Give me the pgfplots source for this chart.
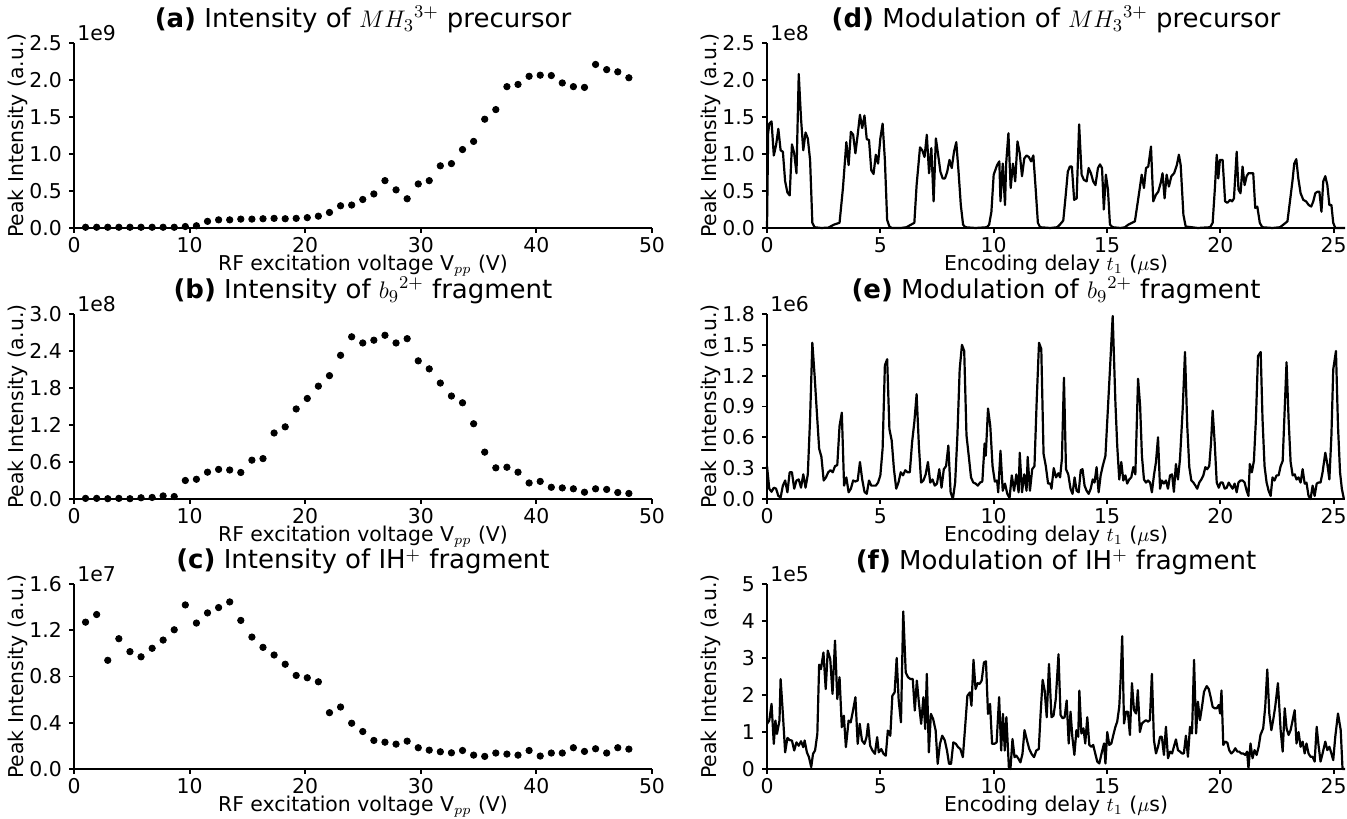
\documentclass[border=0pt]{standalone}
\usepackage{fontspec}
\setmainfont{DejaVu Sans}
\usepackage{pgfplots}
\pgfplotsset{compat=1.18}
\usepackage{pgfplotstable}

\pgfplotstableread{
x a b c
1.00 0.01 0.01 1.27
1.96 0.01 0.01 1.336
2.92 0.01 0.005 0.94
3.88 0.01 0.01 1.127
4.84 0.01 0.005 1.015
5.80 0.01 0.02 0.97
6.76 0.01 0.025 1.044
7.71 0.01 0.05 1.115
8.67 0.01 0.04 1.204
9.63 0.02 0.30 1.419
10.59 0.03 0.32 1.262
11.55 0.09 0.435 1.35
12.51 0.11 0.48 1.396
13.47 0.11 0.47 1.445
14.43 0.12 0.43 1.285
15.39 0.12 0.63 1.141
16.35 0.125 0.655 1.052
17.31 0.13 1.07 0.986
18.27 0.125 1.17 0.906
19.22 0.13 1.46 0.809
20.18 0.14 1.63 0.789
21.14 0.16 1.83 0.754
22.10 0.21 2.00 0.487
23.06 0.30 2.33 0.536
24.02 0.31 2.63 0.396
24.98 0.385 2.53 0.324
25.94 0.46 2.575 0.247
26.90 0.64 2.655 0.232
27.86 0.515 2.53 0.215
28.82 0.395 2.60 0.241
29.78 0.595 2.24 0.184
30.73 0.64 2.11 0.163
31.69 0.84 1.88 0.149
32.65 0.87 1.67 0.14
33.61 1.06 1.56 0.16
34.57 1.17 1.22 0.12
35.53 1.47 0.76 0.109
36.49 1.60 0.505 0.138
37.45 1.91 0.515 0.129
38.41 1.94 0.435 0.12
39.37 2.05 0.26 0.16
40.33 2.065 0.285 0.112
41.29 2.06 0.19 0.138
42.24 1.96 0.18 0.138
43.20 1.91 0.165 0.184
44.16 1.90 0.11 0.152
45.12 2.21 0.165 0.175
46.08 2.14 0.155 0.138
47.04 2.11 0.105 0.184
48.00 2.03 0.09 0.172
}\lefttab

\pgfplotsset{
  base/.style={
    scale only axis, width=289pt, height=92.5pt,
    axis x line=bottom, axis y line=left,
    axis line style={-, line width=1.2pt, black},
    tick style={black, line width=0.9pt},
    tick align=outside, major tick length=2.5pt,
    ymin=0,
    tick label style={font=\fontsize{10.2}{12}\selectfont, inner sep=0.5pt},
    xticklabel style={yshift=-1.4pt},
    yticklabel style={xshift=-2.9pt},
    /pgf/number format/assume math mode=true,
    label style={font=\fontsize{10.2}{12}\selectfont, inner sep=0.5pt},
    title style={font=\fontsize{13}{15}\selectfont, at={(0.5,1)}, anchor=base, yshift=1.5pt, inner sep=0.5pt},
    xlabel style={at={(axis description cs:0.5,0)}, anchor=base, yshift=-21.3pt},
    ylabel style={at={(axis description cs:-0.097,0.5)}, anchor=center, rotate=0},
    clip=false,
  },
  leftax/.style={base, xmin=0, xmax=50, xtick={0,10,20,30,40,50},
    xlabel={RF excitation voltage V$_{pp}$ (V)}, ylabel={Peak Intensity (a.u.)}},
  rightax/.style={base, xmin=0, xmax=25.5, xtick={0,5,10,15,20,25},
    xlabel={Encoding delay $t_1$ ($\mu$s)}, ylabel={Peak Intensity (a.u.)}},
  onedec/.style={yticklabel style={/pgf/number format/.cd, fixed, fixed zerofill, precision=1}},
  dots/.style={only marks, mark=*, mark size=1.6pt, black},
  trace/.style={black, line width=1.1pt, line join=round, mark=none},
}

\begin{document}
\begin{tikzpicture}
\useasboundingbox (0,0) rectangle (673.5pt,409pt);

% (a)
\begin{axis}[leftax, onedec, at={(37pt,295pt)}, anchor=south west,
  ymax=2.5, ytick={0,0.5,1.0,1.5,2.0,2.5},
  title={\textbf{(a)} Intensity of ${MH_3}^{3+}$ precursor}]
\addplot[dots] table[x=x,y=a]{\lefttab};
\node[anchor=south west, inner sep=0pt, font=\fontsize{10.2}{12}\selectfont] at (rel axis cs:0.005,1.01) {1e9};
\end{axis}

% (b)
\begin{axis}[leftax, onedec, at={(37pt,159.5pt)}, anchor=south west,
  ymax=3.0, ytick={0,0.6,1.2,1.8,2.4,3.0},
  title={\textbf{(b)} Intensity of ${b_9}^{2+}$ fragment}]
\addplot[dots] table[x=x,y=b]{\lefttab};
\node[anchor=south west, inner sep=0pt, font=\fontsize{10.2}{12}\selectfont] at (rel axis cs:0.005,1.01) {1e8};
\end{axis}

% (c)
\begin{axis}[leftax, onedec, at={(37pt,24.5pt)}, anchor=south west,
  ymax=1.6, ytick={0,0.4,0.8,1.2,1.6},
  title={\textbf{(c)} Intensity of IH$^{+}$ fragment}]
\addplot[dots] table[x=x,y=c]{\lefttab};
\node[anchor=south west, inner sep=0pt, font=\fontsize{10.2}{12}\selectfont] at (rel axis cs:0.005,1.01) {1e7};
\end{axis}

% (d)
\begin{axis}[rightax, onedec, at={(383.5pt,295pt)}, anchor=south west,
  ymax=2.5, ytick={0,0.5,1.0,1.5,2.0,2.5},
  title={\textbf{(d)} Modulation of ${MH_3}^{3+}$ precursor}]
\addplot[trace] coordinates {(0,0.0)(0.05,1.28)(0.1,1.41)(0.2,1.44)(0.3,0.98)(0.4,1.12)(0.5,1.34)(0.6,1.05)(0.7,1.03)(0.8,0.63)(0.9,0.48)(1.0,0.44)(1.1,1.13)(1.2,1.01)(1.3,0.74)(1.4,2.08)(1.5,1.48)(1.6,1.05)(1.7,1.29)(1.8,1.21)(1.9,0.92)(2.0,0.07)(2.1,0.01)(2.4,0.0)(2.7,0.005)(2.8,0.02)(2.95,0.045)(3.2,0.07)(3.35,0.54)(3.5,1.16)(3.6,0.85)(3.7,1.30)(3.8,1.26)(3.9,1.01)(4.0,1.26)(4.1,1.53)(4.2,1.35)(4.3,1.52)(4.4,1.20)(4.5,1.19)(4.6,0.78)(4.7,0.73)(4.8,0.99)(4.9,0.87)(5.0,1.21)(5.1,1.41)(5.2,0.92)(5.3,0.11)(5.4,0.02)(5.5,0.0)(5.9,0.0)(6.15,0.01)(6.3,0.036)(6.5,0.07)(6.6,0.58)(6.75,1.09)(6.85,1.05)(6.95,0.96)(7.05,1.26)(7.15,0.74)(7.25,1.08)(7.35,0.36)(7.45,1.21)(7.55,0.99)(7.65,0.76)(7.75,0.67)(7.85,0.67)(7.95,0.76)(8.05,0.92)(8.15,0.81)(8.25,1.03)(8.35,1.16)(8.45,0.76)(8.55,0.31)(8.65,0.045)(8.75,0.01)(9.2,0.0)(9.7,0.01)(9.8,0.045)(9.9,0.22)(10.0,0.72)(10.15,0.85)(10.25,0.90)(10.3,0.36)(10.4,0.87)(10.5,0.31)(10.55,0.87)(10.65,1.28)(10.75,0.54)(10.85,0.87)(10.95,0.63)(11.05,1.17)(11.15,1.01)(11.25,0.70)(11.35,0.94)(11.45,0.98)(11.55,0.96)(11.65,0.90)(11.75,0.98)(11.85,0.54)(11.95,0.07)(12.05,0.01)(12.5,0.0)(12.8,0.01)(12.92,0.045)(13.07,0.1)(13.18,0.45)(13.27,0.76)(13.36,0.83)(13.45,0.83)(13.55,0.38)(13.66,0.40)(13.77,1.40)(13.88,0.72)(13.98,0.65)(14.1,0.63)(14.19,0.81)(14.29,0.74)(14.39,0.63)(14.49,0.58)(14.6,0.81)(14.69,0.86)(14.78,0.81)(14.86,0.25)(14.95,0.72)(15.04,0.52)(15.13,0.045)(15.25,0.01)(15.6,0.0)(15.79,0.01)(15.94,0.045)(16.23,0.09)(16.38,0.40)(16.53,0.72)(16.63,0.54)(16.72,0.81)(16.82,0.83)(16.94,1.10)(17.04,0.36)(17.16,0.45)(17.26,0.49)(17.37,0.61)(17.45,0.74)(17.54,0.40)(17.63,0.72)(17.73,0.56)(17.84,0.70)(17.96,0.74)(18.08,0.85)(18.17,0.99)(18.25,0.85)(18.37,0.18)(18.47,0.02)(19.0,0.0)(19.55,0.01)(19.66,0.07)(19.76,0.54)(19.84,0.99)(19.91,0.67)(19.98,0.92)(20.1,0.92)(20.21,0.36)(20.31,0.34)(20.43,0.38)(20.52,0.36)(20.6,0.40)(20.72,1.03)(20.8,0.52)(20.89,0.47)(20.98,0.83)(21.07,0.58)(21.16,0.70)(21.24,0.74)(21.36,0.74)(21.45,0.74)(21.54,0.27)(21.63,0.29)(21.74,0.07)(21.85,0.01)(22.3,0.0)(22.63,0.01)(22.78,0.045)(22.96,0.09)(23.07,0.36)(23.18,0.63)(23.26,0.87)(23.35,0.93)(23.44,0.67)(23.54,0.47)(23.66,0.38)(23.78,0.36)(23.9,0.31)(24.01,0.29)(24.1,0.36)(24.19,0.47)(24.28,0.49)(24.37,0.49)(24.46,0.22)(24.54,0.63)(24.63,0.70)(24.72,0.58)(24.81,0.31)(24.9,0.31)(24.98,0.07)(25.07,0.0)(25.5,0.0)};
\node[anchor=south west, inner sep=0pt, font=\fontsize{10.2}{12}\selectfont] at (rel axis cs:0.005,1.01) {1e8};
\end{axis}

% (e)
\begin{axis}[rightax, onedec, at={(383.5pt,159.5pt)}, anchor=south west,
  ymax=1.8, ytick={0,0.3,0.6,0.9,1.2,1.5,1.8},
  title={\textbf{(e)} Modulation of ${b_9}^{2+}$ fragment}]
\addplot[trace] coordinates {(0,0.32)(0.1,0.10)(0.2,0.07)(0.3,0.11)(0.4,0.10)(0.5,0.03)(0.6,0.015)(0.7,0.13)(0.8,0.18)(0.9,0.065)(1.0,0.26)(1.1,0.26)(1.2,0.10)(1.3,0.18)(1.4,0.19)(1.5,0.11)(1.6,0.24)(1.7,0.11)(1.8,0.24)(1.9,0.78)(2.0,1.52)(2.1,1.20)(2.2,0.84)(2.3,0.49)(2.4,0.41)(2.5,0.18)(2.6,0.21)(2.7,0.26)(2.8,0.28)(2.9,0.26)(3.0,0.32)(3.1,0.33)(3.2,0.71)(3.3,0.84)(3.4,0.13)(3.5,0.21)(3.6,0.065)(3.7,0.10)(3.8,0.18)(3.9,0.17)(4.0,0.18)(4.1,0.36)(4.2,0.19)(4.3,0.07)(4.4,0.05)(4.5,0.18)(4.6,0.13)(4.7,0.13)(4.8,0.13)(4.9,0.16)(5.0,0.23)(5.1,0.49)(5.2,1.30)(5.3,1.36)(5.4,0.68)(5.5,0.57)(5.6,0.29)(5.7,0.10)(5.8,0.16)(5.9,0.26)(6.0,0.23)(6.1,0.28)(6.2,0.26)(6.3,0.26)(6.4,0.55)(6.5,0.75)(6.6,1.02)(6.7,0.52)(6.8,0.16)(6.9,0.18)(7.0,0.24)(7.1,0.36)(7.2,0.16)(7.3,0.19)(7.4,0.13)(7.5,0.15)(7.6,0.29)(7.7,0.11)(7.8,0.29)(7.9,0.32)(8.0,0.52)(8.1,0.065)(8.2,0.0)(8.3,0.16)(8.4,0.62)(8.5,1.26)(8.6,1.50)(8.7,1.44)(8.8,0.62)(8.9,0.42)(9.0,0.21)(9.1,0.16)(9.2,0.15)(9.3,0.13)(9.4,0.16)(9.5,0.17)(9.6,0.54)(9.65,0.42)(9.75,0.88)(9.85,0.71)(9.95,0.32)(10.05,0.17)(10.15,0.18)(10.2,0.065)(10.3,0.47)(10.4,0.08)(10.5,0.15)(10.6,0.05)(10.7,0.01)(10.8,0.23)(10.9,0.08)(11.0,0.24)(11.1,0.065)(11.15,0.45)(11.25,0.065)(11.35,0.24)(11.45,0.08)(11.5,0.41)(11.6,0.08)(11.7,0.29)(11.8,0.32)(11.9,0.97)(12.0,1.52)(12.1,1.46)(12.2,0.44)(12.3,0.32)(12.4,0.15)(12.5,0.15)(12.55,0.10)(12.65,0.30)(12.75,0.21)(12.85,0.25)(12.93,0.21)(13.01,0.39)(13.1,1.18)(13.19,0.29)(13.29,0.24)(13.39,0.10)(13.48,0.05)(13.57,0.21)(13.66,0.08)(13.75,0.065)(13.84,0.28)(13.92,0.29)(14.01,0.13)(14.1,0.08)(14.19,0.05)(14.28,0.10)(14.37,0.19)(14.45,0.16)(14.54,0.31)(14.63,0.065)(14.72,0.23)(14.81,0.32)(14.93,0.42)(15.03,0.84)(15.13,1.26)(15.25,1.78)(15.37,0.94)(15.45,0.52)(15.54,0.19)(15.63,0.36)(15.72,0.18)(15.81,0.23)(15.89,0.15)(15.98,0.19)(16.07,0.21)(16.16,0.31)(16.25,0.24)(16.37,1.17)(16.46,0.91)(16.54,0.42)(16.63,0.19)(16.72,0.16)(16.81,0.18)(16.9,0.16)(16.98,0.065)(17.07,0.23)(17.16,0.36)(17.25,0.60)(17.34,0.10)(17.42,0.18)(17.51,0.15)(17.6,0.18)(17.69,0.10)(17.78,0.23)(17.87,0.24)(17.95,0.07)(18.04,0.34)(18.13,0.19)(18.22,0.39)(18.34,0.88)(18.44,1.43)(18.54,0.71)(18.63,0.31)(18.72,0.18)(18.81,0.16)(18.9,0.13)(18.98,0.10)(19.07,0.16)(19.16,0.19)(19.25,0.23)(19.34,0.31)(19.42,0.29)(19.51,0.32)(19.59,0.55)(19.66,0.86)(19.75,0.55)(19.84,0.16)(19.93,0.11)(20.01,0.16)(20.1,0.16)(20.19,0.10)(20.28,0.11)(20.37,0.16)(20.45,0.13)(20.54,0.10)(20.63,0.15)(20.72,0.065)(20.8,0.16)(20.89,0.18)(20.98,0.18)(21.07,0.16)(21.16,0.08)(21.24,0.03)(21.3,0.34)(21.39,0.26)(21.48,0.37)(21.57,0.78)(21.66,1.39)(21.78,1.43)(21.86,0.78)(21.95,0.32)(22.04,0.16)(22.13,0.08)(22.22,0.03)(22.3,0.21)(22.39,0.18)(22.48,0.23)(22.57,0.23)(22.66,0.32)(22.75,0.37)(22.84,0.88)(22.92,1.33)(23.01,0.78)(23.1,0.36)(23.19,0.23)(23.28,0.24)(23.36,0.19)(23.45,0.21)(23.54,0.16)(23.63,0.29)(23.72,0.15)(23.8,0.16)(23.89,0.03)(23.98,0.0)(24.07,0.13)(24.16,0.03)(24.25,0.15)(24.33,0.16)(24.42,0.16)(24.51,0.26)(24.63,0.45)(24.72,0.34)(24.81,0.19)(24.9,0.62)(24.98,1.26)(25.1,1.44)(25.19,0.71)(25.28,0.26)(25.36,0.10)(25.45,0.0)};
\node[anchor=south west, inner sep=0pt, font=\fontsize{10.2}{12}\selectfont] at (rel axis cs:0.005,1.01) {1e6};
\end{axis}

% (f)
\begin{axis}[rightax, at={(383.5pt,24.5pt)}, anchor=south west,
  ymax=5, ytick={0,1,2,3,4,5},
  title={\textbf{(f)} Modulation of IH$^{+}$ fragment}]
\addplot[trace] coordinates {(0,1.22)(0.1,1.31)(0.2,1.76)(0.3,0.68)(0.37,1.31)(0.44,0.95)(0.55,1.31)(0.6,2.43)(0.7,1.49)(0.8,0.45)(0.9,0.84)(1.0,0.78)(1.1,0.77)(1.2,0.50)(1.3,0.72)(1.4,0.63)(1.5,0.75)(1.6,0.59)(1.66,0.77)(1.76,0.45)(1.85,0.32)(1.95,0.05)(2.03,0.41)(2.12,0.50)(2.22,0.95)(2.3,2.82)(2.38,2.70)(2.49,3.15)(2.59,2.16)(2.68,3.20)(2.79,2.97)(2.89,2.03)(3.0,3.47)(3.1,1.89)(3.2,2.48)(3.3,1.13)(3.39,1.44)(3.48,0.59)(3.6,1.31)(3.69,1.26)(3.78,1.53)(3.9,1.94)(4.0,0.68)(4.09,1.22)(4.19,0.77)(4.3,0.68)(4.39,0.86)(4.46,1.22)(4.55,0.63)(4.65,0.50)(4.76,0.41)(4.86,0.86)(4.93,0.45)(5.04,0.54)(5.14,0.41)(5.24,0.36)(5.33,1.04)(5.44,0.90)(5.53,1.98)(5.63,2.07)(5.72,3.0)(5.81,1.85)(5.91,1.26)(6.01,4.26)(6.12,2.61)(6.22,2.48)(6.33,2.43)(6.43,2.43)(6.52,1.58)(6.61,2.39)(6.7,1.80)(6.8,1.22)(6.9,1.94)(6.98,1.08)(7.05,2.57)(7.14,0.45)(7.23,1.49)(7.33,1.35)(7.44,1.04)(7.53,0.14)(7.63,0.68)(7.73,0.90)(7.84,0.78)(7.94,0.50)(8.03,0.14)(8.12,0.14)(8.22,0.72)(8.33,0.68)(8.43,0.59)(8.53,0.54)(8.64,0.32)(8.74,1.13)(8.84,1.98)(8.95,2.07)(9.02,1.71)(9.11,2.95)(9.2,2.16)(9.29,2.32)(9.38,2.30)(9.47,2.39)(9.57,2.88)(9.66,2.91)(9.75,1.49)(9.84,1.76)(9.93,0.68)(10.03,0.68)(10.13,0.72)(10.24,1.94)(10.33,0.50)(10.41,1.49)(10.49,0.50)(10.56,1.40)(10.67,0.05)(10.74,0.0)(10.83,0.81)(10.92,0.32)(11.0,0.36)(11.1,0.27)(11.18,0.18)(11.27,0.41)(11.36,1.05)(11.47,0.77)(11.57,0.54)(11.67,0.41)(11.78,0.32)(11.88,0.50)(11.99,0.54)(12.07,1.49)(12.16,2.41)(12.25,2.12)(12.34,1.40)(12.44,2.84)(12.55,1.40)(12.64,1.44)(12.74,1.89)(12.86,3.1)(12.95,1.46)(13.04,1.37)(13.13,1.40)(13.22,1.85)(13.31,0.69)(13.39,1.55)(13.47,0.87)(13.56,0.38)(13.65,1.05)(13.73,0.87)(13.78,2.12)(13.87,0.96)(13.96,1.10)(14.04,0.69)(14.13,1.40)(14.22,0.65)(14.31,0.60)(14.39,0.65)(14.48,0.42)(14.57,0.20)(14.66,0.15)(14.76,0.42)(14.87,0.69)(14.93,0.15)(15.01,1.0)(15.1,0.65)(15.19,0.69)(15.28,0.92)(15.37,1.14)(15.45,1.28)(15.54,1.68)(15.6,2.41)(15.67,3.59)(15.75,1.23)(15.84,1.55)(15.92,1.55)(16.01,0.92)(16.1,2.32)(16.19,1.59)(16.28,1.50)(16.36,2.13)(16.45,1.0)(16.54,1.23)(16.63,1.28)(16.72,1.32)(16.81,1.28)(16.89,1.32)(16.98,2.57)(17.07,0.78)(17.16,0.42)(17.25,0.60)(17.34,0.87)(17.42,0.87)(17.51,0.38)(17.6,1.14)(17.69,0.29)(17.78,0.47)(17.87,0.42)(17.95,0.60)(18.04,0.80)(18.13,0.51)(18.22,0.47)(18.31,0.42)(18.39,0.42)(18.48,0.90)(18.57,0.33)(18.66,1.14)(18.75,0.96)(18.84,2.95)(18.93,0.96)(19.01,1.82)(19.1,1.32)(19.19,1.68)(19.28,2.09)(19.4,2.24)(19.49,2.16)(19.57,1.95)(19.66,1.68)(19.75,1.64)(19.84,1.64)(19.93,1.73)(19.99,1.50)(20.05,2.12)(20.13,0.65)(20.22,0.74)(20.31,0.71)(20.39,0.51)(20.48,0.42)(20.57,0.47)(20.66,0.56)(20.75,0.47)(20.83,0.47)(20.92,0.42)(21.01,0.42)(21.1,0.38)(21.18,0.47)(21.24,0.02)(21.33,0.69)(21.42,0.29)(21.51,0.51)(21.6,0.38)(21.69,0.60)(21.77,0.92)(21.89,1.10)(21.98,1.68)(22.07,2.69)(22.16,1.50)(22.25,1.05)(22.33,1.32)(22.42,1.68)(22.54,2.32)(22.66,1.05)(22.75,0.47)(22.84,1.64)(22.92,1.10)(23.01,0.92)(23.1,1.05)(23.19,1.32)(23.28,1.59)(23.36,0.69)(23.45,1.0)(23.54,0.60)(23.63,0.74)(23.72,0.42)(23.8,0.69)(23.89,0.42)(23.98,0.33)(24.07,0.33)(24.16,0.20)(24.25,1.14)(24.33,0.65)(24.42,0.20)(24.51,0.42)(24.63,0.74)(24.72,0.51)(24.81,0.60)(24.9,0.42)(24.98,0.24)(25.07,0.87)(25.19,1.50)(25.31,1.05)(25.39,0.0)(25.5,0.0)};
\node[anchor=south west, inner sep=0pt, font=\fontsize{10.2}{12}\selectfont] at (rel axis cs:0.005,1.01) {1e5};
\end{axis}
\end{tikzpicture}
\end{document}
